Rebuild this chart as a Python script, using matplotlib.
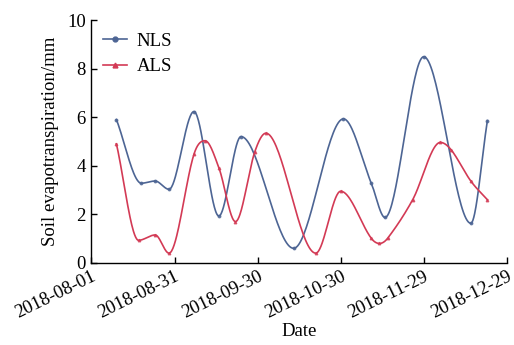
import numpy as np
import pandas as pd
import matplotlib
matplotlib.use("Agg")
import matplotlib.pyplot as plt
import matplotlib.dates as mdates

# =====================================================================
# Data
# =====================================================================
nls_dates = ["2018-08-10", "2018-08-19", "2018-08-24", "2018-08-29", "2018-09-07",
             "2018-09-16", "2018-09-24", "2018-10-13", "2018-10-31", "2018-11-10",
             "2018-11-15", "2018-11-29", "2018-12-16", "2018-12-22"]
nls_values = [5.9, 3.28, 3.37, 3.03, 6.23, 1.93, 5.2, 0.6, 5.93, 3.3, 1.87, 8.49, 1.63, 5.86]

als_dates = ["2018-08-10", "2018-08-18", "2018-08-24", "2018-08-29", "2018-09-07",
             "2018-09-11", "2018-09-16", "2018-09-22", "2018-09-29", "2018-10-03",
             "2018-10-21", "2018-10-30", "2018-11-10", "2018-11-13", "2018-11-16",
             "2018-11-25", "2018-12-05", "2018-12-09", "2018-12-16", "2018-12-22"]
als_values = [4.9, 0.93, 1.15, 0.4, 4.47, 5.03, 3.92, 1.7, 4.58, 5.34,
              0.4, 2.95, 1.02, 0.8, 1.02, 2.6, 4.96, 4.64, 3.37, 2.6]

x_ticks = ["2018-08-01", "2018-08-31", "2018-09-30", "2018-10-30", "2018-11-29", "2018-12-29"]

NLS_COLOR = "#4d6594"
ALS_COLOR = "#d33a55"


def smooth(x, y, n=40):
    """Hermite curve through the points, flat at local peaks and dips."""
    x = np.asarray(x, float)
    y = np.asarray(y, float)
    h = np.diff(x)
    delta = np.diff(y) / h
    d = np.zeros(len(x))
    d[0], d[-1] = delta[0], delta[-1]
    for i in range(1, len(x) - 1):
        if delta[i - 1] * delta[i] > 0:
            s = (y[i + 1] - y[i - 1]) / (x[i + 1] - x[i - 1])
            lim = 3 * min(abs(delta[i - 1]), abs(delta[i]))
            d[i] = np.sign(s) * min(abs(s), lim)
    xs, ys = [], []
    t = np.linspace(0, 1, n)
    for i in range(len(x) - 1):
        h00 = 2 * t ** 3 - 3 * t ** 2 + 1
        h10 = t ** 3 - 2 * t ** 2 + t
        h01 = -2 * t ** 3 + 3 * t ** 2
        h11 = t ** 3 - t ** 2
        xs.append(x[i] + t * h[i])
        ys.append(h00 * y[i] + h10 * h[i] * d[i] + h01 * y[i + 1] + h11 * h[i] * d[i + 1])
    return np.concatenate(xs), np.concatenate(ys)


plt.rcParams['font.family'] = ['Liberation Serif', 'DejaVu Serif']

fig = plt.figure(figsize=(5.14, 3.45), dpi=100)
ax = fig.add_axes([0.178, 0.238, 0.808, 0.704])

for dates, vals, color, marker, label in [
    (nls_dates, nls_values, NLS_COLOR, "o", "NLS"),
    (als_dates, als_values, ALS_COLOR, "^", "ALS"),
]:
    xn = mdates.date2num(pd.to_datetime(dates))
    sx, sy = smooth(xn, vals)
    ax.plot(sx, sy, color=color, lw=1.2)
    ax.plot(xn, vals, color=color, lw=0, marker=marker, ms=1.8, alpha=0.8)
    ax.plot([], [], color=color, lw=1.2, marker=marker, ms=3.5, label=label)

tick_pos = mdates.date2num(pd.to_datetime(x_ticks))
ax.set_xlim(tick_pos[0], tick_pos[-1])
ax.set_xticks(tick_pos)
ax.set_xticklabels(x_ticks, rotation=26, ha="right", rotation_mode="anchor")
ax.set_ylim(0, 10)
ax.set_yticks([0, 2, 4, 6, 8, 10])

ax.spines["top"].set_visible(False)
ax.spines["right"].set_visible(False)
for s in ("left", "bottom"):
    ax.spines[s].set_linewidth(1.0)
ax.tick_params(direction="in", length=4, width=1.0, labelsize=13.5, pad=4)

ax.set_xlabel("Date", fontsize=13.5, labelpad=1)
ax.set_ylabel("Soil evapotranspiration/mm", fontsize=13.5, labelpad=6)

ax.legend(loc="upper left", frameon=False, fontsize=13.5, handlelength=1.3,
          handletextpad=0.5, labelspacing=0.45, borderaxespad=0.2,
          bbox_to_anchor=(0.0, 0.995))

fig.savefig("out.png", dpi=100)
